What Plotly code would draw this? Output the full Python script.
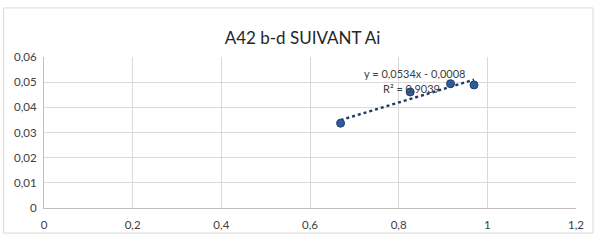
import plotly.graph_objects as go
import numpy as np

x_vals = [0.669, 0.826, 0.917, 0.970]
y_vals = [0.0337, 0.0461, 0.0494, 0.0489]
slope = 0.0534
intercept = -0.0008
r2 = 0.9039
title_text = "A42 b-d SUIVANT Ai"
eq_text = "y = 0,0534x - 0,0008"
r2_text = "R² = 0,9039"

font_family = "Lato, 'Open Sans', sans-serif"

tx = np.array([min(x_vals), max(x_vals)])
ty = slope * tx + intercept

fig = go.Figure()
fig.add_trace(go.Scatter(
    x=tx, y=ty, mode="lines",
    line=dict(color="#1F3864", width=2.4, dash="dot"),
    hoverinfo="skip", showlegend=False))
fig.add_trace(go.Scatter(
    x=x_vals, y=y_vals, mode="markers",
    marker=dict(size=8, color="#2E5C9A", line=dict(color="#1F3F6E", width=1)),
    showlegend=False))

fig.add_annotation(x=0.835, y=0.0535, text=eq_text, showarrow=False,
                   font=dict(family=font_family, size=11, color="#404040"),
                   xref="x", yref="y")
fig.add_annotation(x=0.83, y=0.0475, text=r2_text, showarrow=False,
                   font=dict(family=font_family, size=11, color="#404040"),
                   xref="x", yref="y")

fig.update_layout(
    width=605, height=244,
    margin=dict(l=44, r=29, t=57, b=36),
    paper_bgcolor="white", plot_bgcolor="white",
    separators=", ",
    title=dict(text=title_text, x=0.5, xanchor="center", y=0.845, yanchor="middle",
               xref="container", yref="container",
               font=dict(family=font_family, size=17, color="#262626")),
    font=dict(family=font_family, size=11.5, color="#404040"),
    xaxis=dict(range=[0, 1.2], dtick=0.2, tick0=0, showgrid=True, gridcolor="#D9D9D9",
               gridwidth=1, zeroline=False, showline=True, linecolor="#BFBFBF",
               ticks="outside", ticklen=6, tickcolor="white", fixedrange=True),
    yaxis=dict(range=[0, 0.06], dtick=0.01, tick0=0, showgrid=True, gridcolor="#D9D9D9",
               gridwidth=1, zeroline=False, showline=True, linecolor="#BFBFBF",
               ticks="outside", ticklen=4, tickcolor="white", fixedrange=True),
    shapes=[dict(type="rect", xref="paper", yref="paper",
                 x0=-0.076, x1=1.032, y0=-0.166, y1=1.325,
                 line=dict(color="#D9D9D9", width=1), fillcolor="rgba(0,0,0,0)",
                 layer="below")],
)

fig.write_html("out.html")
